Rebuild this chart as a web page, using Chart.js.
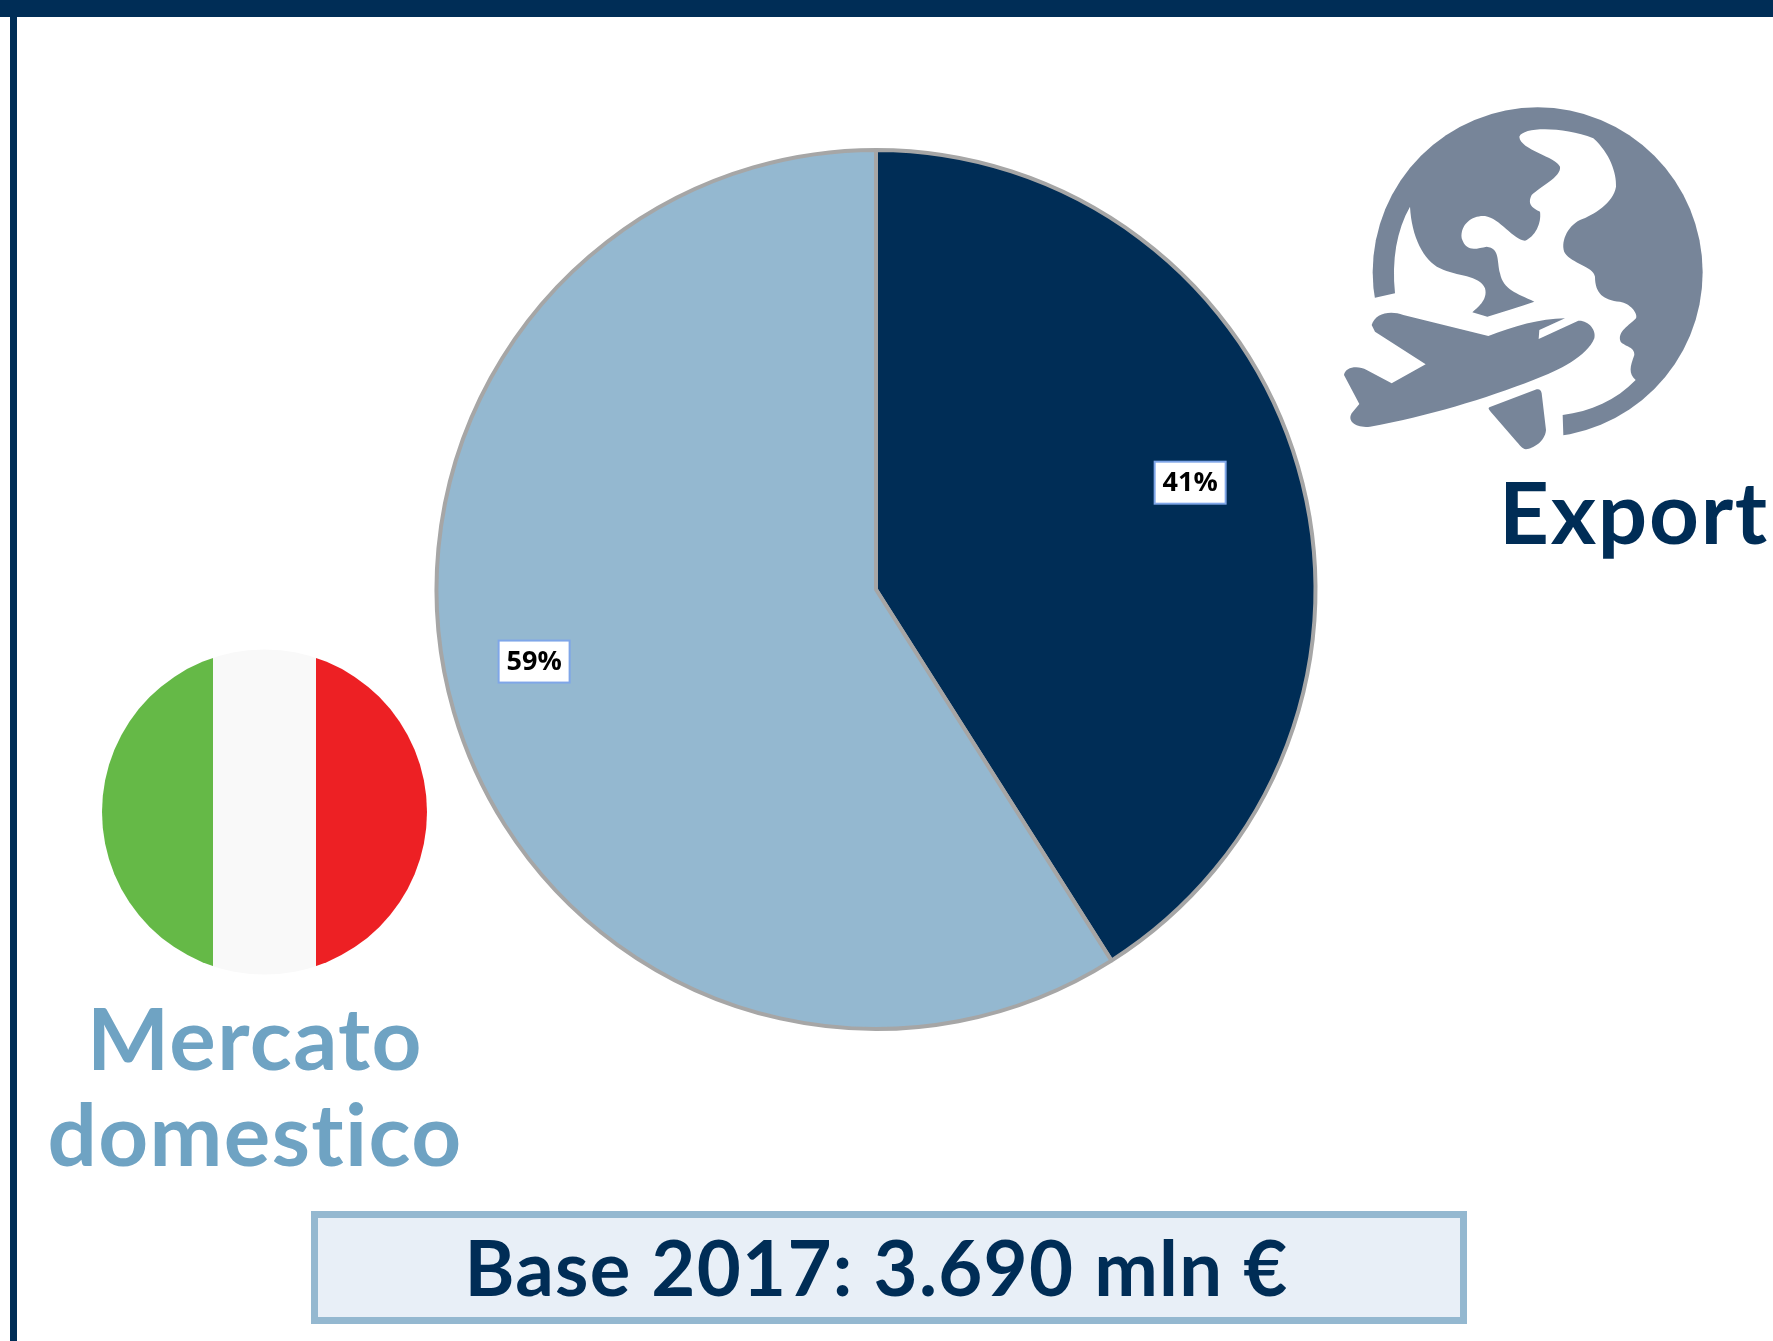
<!DOCTYPE html>
<html>
<head>
<meta charset="utf-8">
<title>Export / Mercato domestico</title>
<script src="https://cdn.jsdelivr.net/npm/chart.js@4"></script>
<style>
  html, body { margin: 0; padding: 0; background: #fff; }
  #page { position: relative; width: 1773px; height: 1341px; overflow: hidden; font-family: Lato, sans-serif; font-weight: 700; font-variant-ligatures: none; }
  #pie { position: absolute; left: 0; top: 0; }
  .topbar { position: absolute; left: 0; top: 0; width: 1773px; height: 17px; background: #002d56; }
  .leftbar { position: absolute; left: 10px; top: 0; width: 7px; height: 1341px; background: #002d56; }
  .caption { position: absolute; white-space: nowrap; }
  #export { left: 1499px; top: 453px; font-size: 87px; line-height: 116px; letter-spacing: 1.7px; color: #002d56; }
  #domestic { left: 0; top: 989px; width: 510px; text-align: center; font-size: 87px; line-height: 96px; letter-spacing: 1.4px; color: #6fa3c3; }
  #base { left: 311px; top: 1211px; width: 1156px; height: 113px; box-sizing: border-box; border: 7px solid #94b8d0; background: #e8eff7; padding-right: 25px;
          text-align: center; font-size: 76px; line-height: 98px; letter-spacing: 1.3px; color: #002d56; }
  svg { position: absolute; }
</style>
</head>
<body>
<div id="page">
  <canvas id="pie" width="1773" height="1341"></canvas>
  <div class="topbar"></div>
  <div class="leftbar"></div>

  <!-- globe and plane -->
  <svg style="left:1300px;top:80px" width="473" height="500" viewBox="0 0 1419 1500">
    <circle cx="713" cy="577" r="495" fill="#778599"/>
    <path fill="#fff" d="M285 640 C275 540 290 450 330 380 C335 470 370 540 420 565 C470 590 540 585 555 625 C565 660 530 685 517 697 L562 710 C610 695 660 680 703 665 C650 640 610 630 600 580 C590 540 600 505 560 500 C530 505 500 520 485 475 C480 430 520 405 555 408 C600 415 640 480 675 482 C705 470 725 430 720 395 C700 385 680 375 695 345 C720 320 785 290 780 260 C770 230 660 210 658 170 C670 140 790 140 880 175 C930 220 950 280 948 320 C940 370 880 405 840 420 C800 440 780 490 795 520 C815 550 880 560 885 590 C885 640 910 660 960 665 C990 670 1015 700 1008 715 C990 735 950 755 962 785 C975 800 1005 800 1003 825 C990 860 985 880 1007 900 C950 960 870 995 788 1005 L790 1065 L790 1110 L100 1110 L100 665 L225 653 Z"/>
    <path fill="#778599" d="M215 735 C225 700 270 690 310 705 L565 768 C640 740 720 715 795 715 L718 750 L716 777 L835 722 C865 720 890 750 883 775 C860 830 780 870 700 900 C560 955 380 1010 210 1040 C170 1045 140 1025 155 1000 L178 972 L132 885 C135 860 175 855 200 870 L275 910 L377 853 L225 755 Z"/>
    <path fill="#778599" d="M568 982 L710 928 Q722 925 725 940 L738 1050 C735 1085 700 1105 678 1108 C665 1105 660 1095 650 1085 L572 995 Q562 985 568 982 Z"/>
  </svg>

  <!-- italian flag -->
  <svg style="left:90px;top:640px" width="350" height="345" viewBox="90 640 350 345">
    <defs><clipPath id="flagClip"><circle cx="264.5" cy="812" r="162.5"/></clipPath></defs>
    <g clip-path="url(#flagClip)">
      <rect x="90" y="640" width="123" height="345" fill="#65b947"/>
      <rect x="213" y="640" width="103" height="345" fill="#f9f9f9"/>
      <rect x="316" y="640" width="124" height="345" fill="#ed2024"/>
    </g>
  </svg>

  <div class="caption" id="export">Export</div>
  <div class="caption" id="domestic">Mercato<br>domestico</div>
  <div class="caption" id="base">Base 2017: 3.690 mln €</div>
</div>

<script>
const categories = ['Export', 'Mercato domestico'];
const shares = [41, 59];
const sliceColors = ['#002d56', '#94b8d0'];

// little white boxes with the percentages, placed along each slice
const boxLabels = {
  id: 'boxLabels',
  afterDatasetsDraw(chart, args, opts) {
    const ctx = chart.ctx;
    chart.getDatasetMeta(0).data.forEach((arc, i) => {
      const p = arc.getProps(['x', 'y', 'startAngle', 'endAngle', 'outerRadius']);
      const mid = (p.startAngle + p.endAngle) / 2 + opts.nudge[i];
      const r = p.outerRadius * opts.along[i];
      const cx = p.x + Math.cos(mid) * r;
      const cy = p.y + Math.sin(mid) * r;
      ctx.save();
      ctx.fillStyle = '#fff';
      ctx.strokeStyle = '#7fa6e8';
      ctx.lineWidth = 2;
      ctx.fillRect(cx - opts.w / 2, cy - opts.h / 2, opts.w, opts.h);
      ctx.strokeRect(cx - opts.w / 2, cy - opts.h / 2, opts.w, opts.h);
      ctx.fillStyle = '#000';
      ctx.font = '700 27px "Open Sans"';
      ctx.textAlign = 'center';
      ctx.textBaseline = 'middle';
      ctx.fillText(shares[i] + '%', cx, cy + 1);
      ctx.restore();
    });
  }
};

new Chart(document.getElementById('pie'), {
  type: 'pie',
  data: {
    labels: categories,
    datasets: [{
      data: shares,
      backgroundColor: sliceColors,
      borderColor: '#a6a6a6',
      borderWidth: 4
    }]
  },
  options: {
    responsive: false,
    animation: false,
    layout: { padding: { left: 434.5, right: 455.5, top: 148, bottom: 310 } },
    plugins: {
      legend: { display: false },
      tooltip: { enabled: false },
      boxLabels: { w: 71, h: 42, along: [0.755, 0.795], nudge: [-0.045, 0.075] }
    }
  },
  plugins: [boxLabels]
});
</script>
</body>
</html>
